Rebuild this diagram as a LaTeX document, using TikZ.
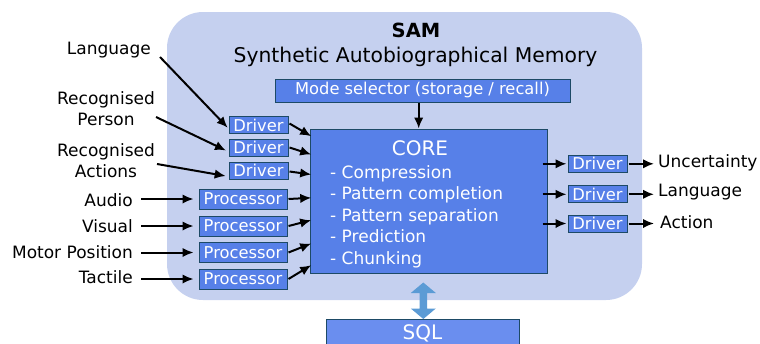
\documentclass[tikz,border=0pt]{standalone}
\usepackage{fontspec}
\setmainfont{DejaVu Sans}
\usetikzlibrary{arrows.meta,calc}
\definecolor{bgblue}{HTML}{C5D0EF}
\definecolor{boxfill}{HTML}{5780E8}
\definecolor{boxline}{HTML}{1D4A66}
\definecolor{sqlfill}{HTML}{6A8EEF}
\definecolor{dblarrow}{HTML}{5B9BD5}
\tikzset{
  fs/.style={font=\fontsize{#1}{#1}\selectfont},
  box/.style={draw=boxline, fill=boxfill, text=white, line width=1pt, inner sep=0pt, fs=16.3},
  drv/.style={box, minimum width=59pt, minimum height=17pt},
  proc/.style={box, minimum width=88pt, minimum height=20pt},
  lbl/.style={inner sep=0pt, fs=17, text=black},
  item/.style={inner sep=0pt, fs=17, text=white, anchor=west, text height=12.5pt, text depth=3.5pt},
  arr/.style={-{Latex[length=11pt,width=9.5pt]}, line width=2pt, black},
}
\begin{document}
\begin{tikzpicture}[x=1pt,y=-1pt]
\useasboundingbox (0,0) rectangle (760,343);
\clip (0,0) rectangle (760,343);
% background
\fill[bgblue, rounded corners=36pt] (167,12) rectangle (642,300);
\node[inner sep=0pt, fs=19.5] (sam) at (416,30) {\textbf{SAM}};
\node[inner sep=0pt, fs=20.3] (title) at (415.5,57) {Synthetic Autobiographical Memory};
% mode selector and core
\node[box, minimum width=295pt, minimum height=23pt] (mode) at (422.5,90.5) {Mode selector (storage / recall)};
\node[box, minimum width=237pt, minimum height=144pt] (core) at (428.5,201) {};
\node[inner sep=0pt, fs=20, text=white] (coret) at (420,148) {CORE};
\node[item] (c1) at (330,173.5) {- Compression};
\node[item] (c2) at (330,195) {- Pattern completion};
\node[item] (c3) at (330,216.5) {- Pattern separation};
\node[item] (c4) at (330,238) {- Prediction};
\node[item] (c5) at (330,260) {- Chunking};
\draw[arr] (mode.south -| 418.7,0) -- (core.north -| 418.7,0);
% left drivers
\node[drv] (d1) at (258.5,125) {Driver};
\node[drv] (d2) at (258.5,147.5) {Driver};
\node[drv] (d3) at (258.5,170.5) {Driver};
\node[proc] (p1) at (243,199) {Processor};
\node[proc] (p2) at (243,226) {Processor};
\node[proc] (p3) at (243,252.5) {Processor};
\node[proc] (p4) at (243,279) {Processor};
% left labels
\node[lbl, anchor=east] (lang) at (151,50) {Language};
\node[lbl, align=center] (rp) at (106,109) {Recognised\\[4pt]Person};
\node[lbl, align=center] (ra) at (106,161) {Recognised\\[4pt]Actions};
\node[lbl, anchor=east] (audio) at (133,200) {Audio};
\node[lbl, anchor=east] (visual) at (133,226) {Visual};
\node[lbl, anchor=east] (motor) at (133,252) {Motor Position};
\node[lbl, anchor=east] (tactile) at (133,277) {Tactile};
% label arrows
\coordinate (l0) at (160,57);
\coordinate (rp0) at (156,117);
\coordinate (ra0) at (157,164);
\draw[arr] (l0) -- (227.7,127.7);
\draw[arr] (rp0) -- (226,150.5);
\draw[arr] (ra0) -- (225.7,176);
\draw[arr] ([xshift=8pt]audio.east |- p1.west) -- ([xshift=-5pt]p1.west);
\draw[arr] ([xshift=8pt]visual.east |- p2.west) -- ([xshift=-5pt]p2.west);
\draw[arr] ([xshift=8pt]motor.east |- p3.west) -- ([xshift=-5pt]p3.west);
\draw[arr] ([xshift=8pt]tactile.east |- p4.west) -- ([xshift=-5pt]p4.west);
% into core
\draw[arr] ([xshift=1pt,yshift=1.5pt]d1.east) -- ([xshift=1.7pt,yshift=-7.7pt]core.north west);
\draw[arr] ([xshift=1pt]d2.east) -- ([xshift=1.7pt,yshift=-26pt]core.north west);
\draw[arr] ([xshift=1pt,yshift=-1pt]d3.east) -- ([xshift=1.7pt,yshift=-46pt]core.north west);
\draw[arr] ([xshift=1pt]p1.east) -- ([xshift=1.7pt,yshift=-69.3pt]core.north west);
\draw[arr] ([xshift=1pt]p2.east) -- ([xshift=1.7pt,yshift=-91.7pt]core.north west);
\draw[arr] ([xshift=1pt]p3.east) -- ([xshift=1.7pt,yshift=-115pt]core.north west);
\draw[arr] ([xshift=1pt]p4.east) -- ([xshift=1.7pt,yshift=-136.7pt]core.north west);
% right drivers
\node[drv] (r1) at (597.5,163.8) {Driver};
\node[drv] (r2) at (597.5,194.3) {Driver};
\node[drv] (r3) at (597.5,223.5) {Driver};
\node[lbl, anchor=west] (unc) at (658,163) {Uncertainty};
\node[lbl, anchor=west] (lang2) at (658,192) {Language};
\node[lbl, anchor=west] (act) at (660,222) {Action};
\draw[arr] ([xshift=-5pt]core.east |- r1.west) -- ([xshift=-1pt]r1.west);
\draw[arr] ([xshift=-5pt]core.east |- r2.west) -- ([xshift=-1pt]r2.west);
\draw[arr] ([xshift=-5pt]core.east |- r3.west) -- ([xshift=-1pt]r3.west);
\draw[arr] ([xshift=1pt]r1.east) -- ([xshift=-4pt]unc.west |- r1.east);
\draw[arr] ([xshift=1pt]r2.east) -- ([xshift=-4pt]lang2.west |- r2.east);
\draw[arr] ([xshift=1pt]r3.east) -- ([xshift=-6pt]act.west |- r3.east);
% SQL
\node[draw=boxline, fill=sqlfill, line width=1pt, minimum width=193pt, minimum height=44pt, anchor=north, inner sep=0pt] (sql) at (422.5,319) {};
\node[inner sep=0pt, fs=20, text=white] (sqlt) at (422.5,333) {SQL};
% double arrow
\fill[dblarrow] (423.3,282.5) -- (435.8,293) -- (427,293) -- (427,308.5) -- (435.8,308.5) -- (423.3,319) -- (410.8,308.5) -- (419.6,308.5) -- (419.6,293) -- (410.8,293) -- cycle;
\end{tikzpicture}
\end{document}
